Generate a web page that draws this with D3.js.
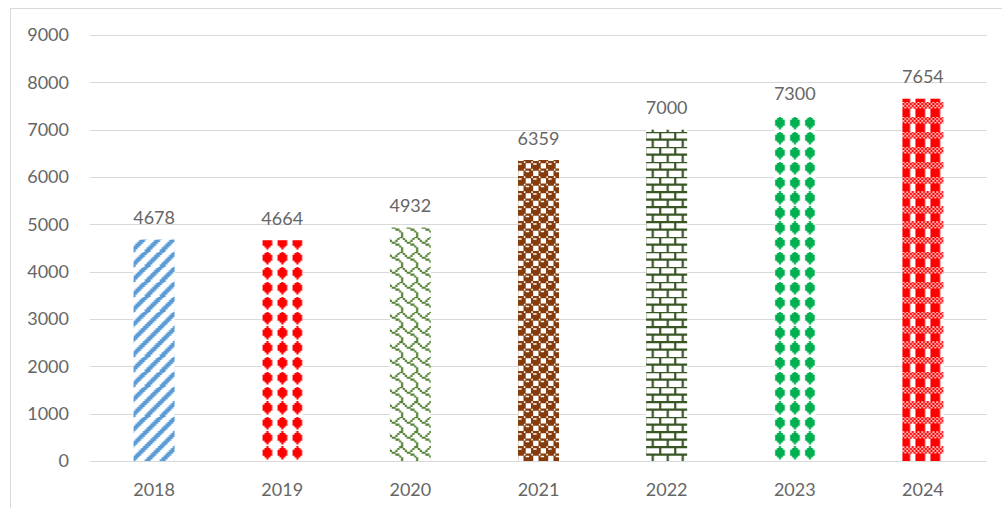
<!DOCTYPE html>
<html>
<head>
<meta charset="utf-8">
<script src="https://cdn.jsdelivr.net/npm/d3@7"></script>
<style>
  html, body { margin: 0; padding: 0; background: #ffffff; }
  svg { display: block; }
  text { font-family: Lato, "Open Sans", "Liberation Sans", sans-serif; }
</style>
</head>
<body>
<svg id="chart" width="1002" height="508"></svg>
<script>
// Yearly values shown as patterned columns
const years = ["2018", "2019", "2020", "2021", "2022", "2023", "2024"];
const values = [4678, 4664, 4932, 6359, 7000, 7300, 7654];
const yTicks = [0, 1000, 2000, 3000, 4000, 5000, 6000, 7000, 8000, 9000];

// 8x8 fill patterns (one hex byte per row, leftmost bit = left pixel)
const patternBits = {
  wideUpDiag:   [0x83, 0x07, 0x0e, 0x1c, 0x38, 0x70, 0xe0, 0xc1],
  solidDiamond: [0x10, 0x38, 0x7c, 0x7c, 0x7c, 0x38, 0x10, 0x00],
  shingle:      [0x03, 0x84, 0x48, 0x30, 0x0c, 0x02, 0x01, 0x01],
  sphere:       [0x77, 0x98, 0xf8, 0xf8, 0x77, 0x89, 0x8f, 0x8f],
  hBrick:       [0xff, 0x80, 0x80, 0x80, 0xff, 0x08, 0x08, 0x08],
  plaid:        [0xaa, 0x55, 0xaa, 0x55, 0xf8, 0xf8, 0xf8, 0xf8]
};
const barFills = [
  { bits: "wideUpDiag",   color: "#5B9BD5" },
  { bits: "solidDiamond", color: "#FF0000" },
  { bits: "shingle",      color: "#548235" },
  { bits: "sphere",       color: "#843C0C" },
  { bits: "hBrick",       color: "#375623" },
  { bits: "solidDiamond", color: "#00B050" },
  { bits: "plaid",        color: "#FF0000" }
];

const svg = d3.select("#chart");
const W = 1002, H = 508;
const plot = { left: 90, right: 987, top: 35, bottom: 461 };
const textColor = "#666666";
const gridColor = "#d9d9d9";
const fontSize = 18;
const cell = 1.875; // pixel size of one pattern bit
const tile = cell * 8;
const bleed = 0.35;  // slight overlap so neighbouring bits join without seams

// chart area border
svg.append("rect")
  .attr("x", 10.5).attr("y", 8.5)
  .attr("width", W + 20).attr("height", H + 20)
  .attr("fill", "none")
  .attr("stroke", gridColor)
  .attr("stroke-width", 1);

const x = d3.scaleBand()
  .domain(years)
  .range([plot.left, plot.right])
  .paddingInner(0.68)
  .paddingOuter(0.34);

const y = d3.scaleLinear()
  .domain([0, 9000])
  .range([plot.bottom, plot.top]);

// gridlines
svg.append("g")
  .selectAll("line")
  .data(yTicks)
  .join("line")
  .attr("x1", plot.left).attr("x2", plot.right)
  .attr("y1", d => Math.round(y(d)) + 0.5)
  .attr("y2", d => Math.round(y(d)) + 0.5)
  .attr("stroke", gridColor)
  .attr("stroke-width", 1);

// fill patterns, one per bar, anchored to the bar's centre and baseline
const defs = svg.append("defs");
barFills.forEach((f, i) => {
  const cx = x(years[i]) + x.bandwidth() / 2;
  const p = defs.append("pattern")
    .attr("id", "fill" + i)
    .attr("patternUnits", "userSpaceOnUse")
    .attr("x", cx - tile / 2 + (f.bits === "solidDiamond" ? cell / 2 : 0))
    .attr("y", plot.bottom)
    .attr("width", tile)
    .attr("height", tile);
  p.append("rect").attr("width", tile).attr("height", tile).attr("fill", "#ffffff");
  // each set bit is drawn 3x3 times (tile wrap) so overlaps also cross tile edges
  let d = "";
  patternBits[f.bits].forEach((row, r) => {
    let c = 0;
    while (c < 8) {
      if (row & (0x80 >> c)) {
        let e = c;
        while (e < 8 && (row & (0x80 >> e))) e++;
        for (const ox of [-tile, 0, tile]) {
          for (const oy of [-tile, 0, tile]) {
            const x0 = c * cell + ox, y0 = r * cell + oy;
            const w = (e - c) * cell + bleed, h = cell + bleed;
            d += `M${x0},${y0}h${w}v${h}h${-w}Z`;
          }
        }
        c = e;
      } else {
        c++;
      }
    }
  });
  p.append("path").attr("d", d).attr("fill", f.color);
});

// bars
svg.append("g")
  .selectAll("rect")
  .data(values)
  .join("rect")
  .attr("x", (d, i) => x(years[i]))
  .attr("y", d => y(d))
  .attr("width", x.bandwidth())
  .attr("height", d => plot.bottom - y(d))
  .attr("fill", (d, i) => `url(#fill${i})`);

// value labels
svg.append("g")
  .selectAll("text")
  .data(values)
  .join("text")
  .attr("x", (d, i) => x(years[i]) + x.bandwidth() / 2)
  .attr("y", d => y(d) - 15.5)
  .attr("text-anchor", "middle")
  .attr("fill", textColor)
  .attr("font-size", fontSize)
  .text(d => d);

// y axis labels
const yAxis = svg.append("g")
  .attr("transform", `translate(${plot.left},0)`)
  .call(d3.axisLeft(y).tickValues(yTicks).tickSize(0).tickPadding(21).tickFormat(d3.format("d")));
yAxis.select(".domain").remove();
yAxis.selectAll("text")
  .attr("fill", textColor)
  .attr("font-size", fontSize)
  .attr("font-family", "Lato, 'Open Sans', sans-serif");

// x axis labels
const xAxis = svg.append("g")
  .attr("transform", `translate(0,${plot.bottom})`)
  .call(d3.axisBottom(x).tickSize(0).tickPadding(22));
xAxis.select(".domain").remove();
xAxis.selectAll("text")
  .attr("fill", textColor)
  .attr("font-size", fontSize)
  .attr("font-family", "Lato, 'Open Sans', sans-serif");
</script>
</body>
</html>
